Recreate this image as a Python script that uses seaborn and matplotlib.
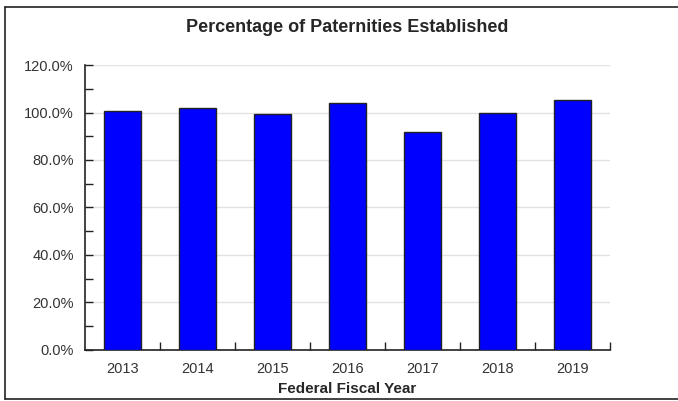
import matplotlib
matplotlib.use('Agg')
import matplotlib.pyplot as plt
import seaborn as sns
from matplotlib.ticker import PercentFormatter, MultipleLocator, FixedLocator
from matplotlib.lines import Line2D

# --- DATA ---
years = ['2013', '2014', '2015', '2016', '2017', '2018', '2019']
pct_established = [1.005, 1.019, 0.992, 1.039, 0.919, 0.996, 1.053]

# --- STYLE ---
sns.set_style('white')
plt.rcParams['font.family'] = ['Liberation Sans', 'DejaVu Sans']

fig = plt.figure(figsize=(6.78, 4.01), dpi=100)
ax = fig.add_axes([0.1254, 0.1272, 0.7743, 0.7107])

sns.barplot(x=years, y=pct_established, color='#0000ff', saturation=1,
            edgecolor='#222222', linewidth=1, width=0.5, ax=ax, zorder=3)

ax.set_ylim(0, 1.2)
ax.set_xlim(-0.5, len(years) - 0.5)
ax.yaxis.set_major_locator(MultipleLocator(0.2))
ax.yaxis.set_minor_locator(MultipleLocator(0.1))
ax.yaxis.set_major_formatter(PercentFormatter(1.0, decimals=1))
ax.xaxis.set_minor_locator(FixedLocator([i + 0.5 for i in range(len(years))]))

ax.grid(axis='y', which='major', color='#e2e2e2', linewidth=1, zorder=0)
ax.set_axisbelow(True)

ax.tick_params(axis='y', which='both', direction='in', length=6, width=1,
               color='#222222', labelsize=10.5, labelcolor='#333333', pad=8,
               left=True)
ax.tick_params(axis='x', which='major', length=0, labelsize=10.5,
               labelcolor='#333333', pad=9)
ax.tick_params(axis='x', which='minor', direction='in', length=6, width=1,
               color='#222222', bottom=True)

for side in ['top', 'right']:
    ax.spines[side].set_visible(False)
for side in ['left', 'bottom']:
    ax.spines[side].set_color('#222222')
    ax.spines[side].set_linewidth(1.2)

ax.set_title('Percentage of Paternities Established', fontsize=13,
             fontweight='bold', pad=24)
ax.set_xlabel('Federal Fiscal Year', fontsize=11, fontweight='bold', labelpad=4)
ax.set_ylabel('')

# outer border (left, top, bottom) around the chart
x0, x1, y0, y1 = 0.0074, 1.0, 0.005, 0.9825
for xs, ys in [([x0, x0], [y0, y1]), ([x0, x1], [y1, y1]), ([x0, x1], [y0, y0])]:
    fig.add_artist(Line2D(xs, ys, transform=fig.transFigure,
                          color='#222222', linewidth=1.2))

fig.savefig('out.png', dpi=100)
